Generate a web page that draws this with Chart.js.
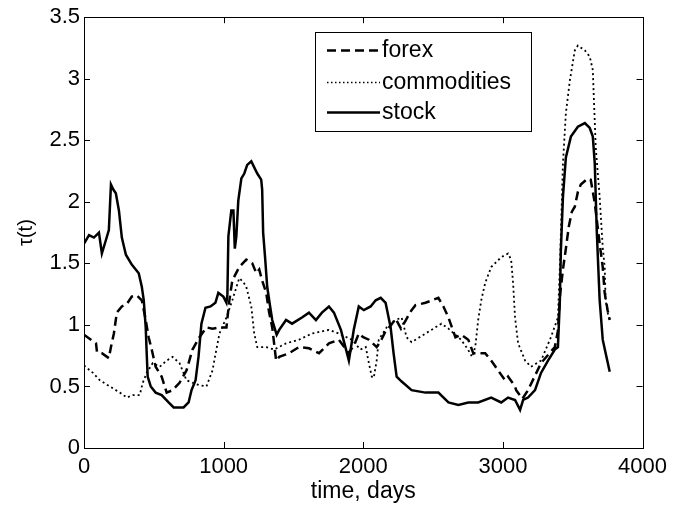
<!DOCTYPE html>
<html>
<head>
<meta charset="utf-8">
<script src="https://cdn.jsdelivr.net/npm/chart.js@4/dist/chart.umd.min.js"></script>
<style>
  html, body { margin: 0; padding: 0; background: #fff; }
  #wrap { width: 673px; height: 509px; }
</style>
</head>
<body>
<div id="wrap"><canvas id="c" width="673" height="509"></canvas></div>
<script>
// ---- Data ----
const seriesNames = ['forex', 'commodities', 'stock'];
const xTickValues = [0, 1000, 2000, 3000, 4000];
const yTickValues = [0, 0.5, 1, 1.5, 2, 2.5, 3, 3.5];

const forexDays = [0, 50, 86, 93, 128, 178, 193, 214, 235, 271, 307, 342, 378, 414, 442, 463, 485, 513, 556, 592, 635, 684, 734, 777, 827, 877, 920, 970, 1020, 1041, 1062, 1112, 1162, 1205, 1234, 1255, 1276, 1305, 1326, 1348, 1376, 1398, 1469, 1540, 1611, 1683, 1754, 1825, 1897, 1940, 1968, 2000, 2040, 2096, 2130, 2160, 2200, 2232, 2270, 2310, 2346, 2374, 2446, 2538, 2574, 2610, 2660, 2702, 2752, 2788, 2873, 2916, 2966, 3016, 3037, 3087, 3095, 3140, 3180, 3273, 3372, 3394, 3410, 3430, 3451, 3472, 3494, 3515, 3537, 3558, 3608, 3629, 3658, 3693, 3715, 3729, 3750, 3765];
const forexVals = [0.92, 0.88, 0.85, 0.78, 0.77, 0.73, 0.82, 0.93, 1.10, 1.15, 1.17, 1.23, 1.24, 1.20, 1.04, 0.90, 0.80, 0.66, 0.58, 0.45, 0.47, 0.53, 0.63, 0.80, 0.90, 0.98, 0.97, 0.98, 0.98, 1.20, 1.36, 1.47, 1.53, 1.50, 1.42, 1.45, 1.36, 1.26, 1.10, 0.98, 0.71, 0.74, 0.77, 0.82, 0.81, 0.77, 0.85, 0.88, 0.77, 0.85, 0.93, 0.90, 0.88, 0.82, 0.88, 0.95, 1.00, 1.05, 0.97, 1.05, 1.12, 1.16, 1.18, 1.22, 1.15, 1.06, 0.90, 0.92, 0.88, 0.77, 0.77, 0.71, 0.63, 0.55, 0.58, 0.50, 0.47, 0.40, 0.47, 0.69, 0.82, 0.95, 1.25, 1.45, 1.62, 1.80, 1.92, 1.96, 2.08, 2.14, 2.19, 2.18, 1.99, 1.66, 1.47, 1.26, 1.12, 1.04];

const commodDays = [0, 64, 114, 185, 257, 307, 349, 399, 421, 449, 492, 542, 592, 635, 684, 734, 777, 827, 877, 920, 948, 970, 1020, 1062, 1112, 1140, 1162, 1198, 1219, 1241, 1305, 1362, 1447, 1540, 1633, 1754, 1825, 1918, 1980, 2018, 2040, 2061, 2075, 2096, 2111, 2168, 2232, 2275, 2310, 2346, 2446, 2517, 2560, 2610, 2650, 2700, 2750, 2780, 2802, 2823, 2845, 2873, 2916, 2988, 3037, 3059, 3073, 3087, 3109, 3159, 3201, 3273, 3344, 3394, 3408, 3430, 3451, 3480, 3515, 3537, 3587, 3622, 3644, 3651, 3665, 3693, 3715, 3729, 3736, 3750, 3765];
const commodVals = [0.67, 0.61, 0.55, 0.50, 0.45, 0.41, 0.43, 0.43, 0.53, 0.61, 0.69, 0.66, 0.71, 0.74, 0.69, 0.55, 0.53, 0.51, 0.50, 0.63, 0.80, 0.93, 1.06, 1.20, 1.38, 1.35, 1.31, 1.15, 0.93, 0.82, 0.82, 0.80, 0.85, 0.88, 0.93, 0.96, 0.93, 0.88, 0.80, 0.82, 0.69, 0.58, 0.57, 0.71, 0.88, 0.98, 1.04, 1.06, 0.90, 0.86, 0.93, 0.98, 1.01, 0.97, 0.93, 0.88, 0.80, 0.74, 0.82, 1.04, 1.20, 1.34, 1.47, 1.55, 1.58, 1.53, 1.34, 1.06, 0.85, 0.71, 0.66, 0.71, 0.90, 1.06, 1.47, 2.31, 2.72, 2.99, 3.23, 3.27, 3.23, 3.18, 3.07, 2.85, 2.44, 2.04, 1.63, 1.47, 1.20, 1.10, 1.04];

const stockDays = [0, 36, 71, 107, 128, 157, 178, 193, 210, 228, 250, 271, 300, 342, 392, 414, 428, 442, 449, 456, 478, 513, 556, 606, 642, 713, 749, 770, 799, 820, 841, 870, 906, 941, 962, 998, 1020, 1027, 1034, 1055, 1070, 1080, 1091, 1105, 1127, 1148, 1169, 1198, 1219, 1241, 1269, 1276, 1283, 1298, 1312, 1333, 1348, 1369, 1380, 1398, 1447, 1490, 1561, 1611, 1661, 1704, 1754, 1790, 1840, 1897, 1932, 1968, 2004, 2053, 2089, 2125, 2160, 2196, 2217, 2239, 2275, 2346, 2445, 2538, 2610, 2681, 2752, 2823, 2916, 2988, 3037, 3087, 3123, 3145, 3180, 3230, 3273, 3323, 3372, 3394, 3408, 3415, 3430, 3451, 3487, 3537, 3587, 3622, 3644, 3658, 3672, 3693, 3715, 3736, 3765];
const stockVals = [1.66, 1.73, 1.71, 1.75, 1.58, 1.69, 1.77, 2.14, 2.10, 2.07, 1.93, 1.71, 1.57, 1.49, 1.42, 1.31, 1.20, 0.98, 0.77, 0.58, 0.50, 0.45, 0.43, 0.37, 0.33, 0.33, 0.37, 0.47, 0.55, 0.74, 1.01, 1.14, 1.15, 1.18, 1.26, 1.23, 1.18, 1.25, 1.72, 1.93, 1.93, 1.62, 1.72, 2.01, 2.19, 2.23, 2.30, 2.33, 2.28, 2.23, 2.18, 2.10, 1.75, 1.53, 1.31, 1.15, 1.04, 0.96, 0.92, 0.96, 1.04, 1.01, 1.06, 1.10, 1.04, 1.10, 1.15, 1.10, 0.96, 0.71, 0.96, 1.15, 1.12, 1.15, 1.20, 1.22, 1.18, 0.98, 0.77, 0.58, 0.54, 0.47, 0.45, 0.45, 0.37, 0.35, 0.37, 0.37, 0.41, 0.37, 0.41, 0.39, 0.31, 0.39, 0.41, 0.47, 0.61, 0.71, 0.80, 0.82, 1.20, 1.60, 2.04, 2.36, 2.53, 2.61, 2.64, 2.60, 2.53, 2.31, 1.77, 1.20, 0.88, 0.77, 0.62];

// ---- build datasets ----
function pts(days, vals) { return days.map((d, i) => ({ x: d, y: vals[i] })); }

const FONT = "'Liberation Sans', Arial, Helvetica, sans-serif";
const styles = {
  forex: { borderDash: [9, 5], borderWidth: 2.5 },
  commodities: { borderDash: [2, 3], borderWidth: 1.8 },
  stock: { borderDash: [], borderWidth: 2.5 }
};
const dataMap = {
  forex: pts(forexDays, forexVals),
  commodities: pts(commodDays, commodVals),
  stock: pts(stockDays, stockVals)
};

const datasets = seriesNames.map(n => ({
  label: n,
  data: dataMap[n],
  borderColor: '#000',
  backgroundColor: '#000',
  borderWidth: styles[n].borderWidth,
  borderDash: styles[n].borderDash,
  pointRadius: 0,
  tension: 0,
  fill: false
}));

// box + inward ticks on all four sides
const framePlugin = {
  id: 'frame',
  afterDraw(chart) {
    const { ctx, chartArea: a, scales } = chart;
    ctx.save();
    ctx.strokeStyle = '#000';
    ctx.lineWidth = 1;
    ctx.setLineDash([]);
    ctx.strokeRect(Math.round(a.left) + 0.5, Math.round(a.top) + 0.5,
                   Math.round(a.right - a.left), Math.round(a.bottom - a.top));
    const L = 6;
    ctx.beginPath();
    xTickValues.forEach(v => {
      const px = Math.round(scales.x.getPixelForValue(v)) + 0.5;
      ctx.moveTo(px, a.bottom); ctx.lineTo(px, a.bottom - L);
      ctx.moveTo(px, a.top); ctx.lineTo(px, a.top + L);
    });
    yTickValues.forEach(v => {
      const py = Math.round(scales.y.getPixelForValue(v)) + 0.5;
      ctx.moveTo(a.left, py); ctx.lineTo(a.left + L, py);
      ctx.moveTo(a.right, py); ctx.lineTo(a.right - L, py);
    });
    ctx.stroke();
    ctx.restore();
  }
};

// MATLAB-like legend box inside the axes (top right)
const legendPlugin = {
  id: 'boxLegend',
  afterDraw(chart) {
    const { ctx, chartArea: a } = chart;
    const x0 = a.left + 231, y0 = a.top + 15, w = 216, h = 99;
    ctx.save();
    ctx.fillStyle = '#fff';
    ctx.fillRect(x0, y0, w, h);
    ctx.strokeStyle = '#000';
    ctx.lineWidth = 1;
    ctx.setLineDash([]);
    ctx.strokeRect(Math.round(x0) + 0.5, Math.round(y0) + 0.5, w, h);
    const rowY = [y0 + 18, y0 + 50, y0 + 80];
    chart.data.datasets.forEach((ds, i) => {
      const y = Math.round(rowY[i]) + 0.5;
      ctx.beginPath();
      ctx.setLineDash(ds.label === 'commodities' ? [1.5, 2.5] : ds.borderDash);
      ctx.lineWidth = ds.label === 'commodities' ? 1.3 : ds.borderWidth;
      ctx.strokeStyle = '#000';
      ctx.moveTo(x0 + 12, y);
      ctx.lineTo(x0 + 65, y);
      ctx.stroke();
      ctx.setLineDash([]);
      ctx.fillStyle = '#000';
      ctx.font = "23px " + FONT;
      ctx.textBaseline = 'middle';
      ctx.textAlign = 'left';
      ctx.fillText(ds.label, x0 + 67, y);
    });
    ctx.restore();
  }
};

const plainLabel = v => String(v);

new Chart(document.getElementById('c'), {
  type: 'line',
  data: { datasets },
  plugins: [framePlugin, legendPlugin],
  options: {
    responsive: false,
    animation: false,
    events: [],
    layout: { autoPadding: false, padding: { left: 0, top: 17, right: 28, bottom: 0 } },
    plugins: { legend: { display: false }, tooltip: { enabled: false } },
    scales: {
      x: {
        type: 'linear',
        min: 0, max: 4000,
        afterFit(s) { s.height = 61; },
        afterBuildTicks(s) { s.ticks = xTickValues.map(v => ({ value: v })); },
        grid: { display: false, drawTicks: false },
        border: { display: false },
        ticks: { color: '#000', font: { family: FONT, size: 22 }, padding: 6, maxRotation: 0, autoSkip: false, callback: plainLabel },
        title: { display: true, text: 'time, days', color: '#000', font: { family: FONT, size: 23 }, padding: { top: 0, bottom: 4 } }
      },
      y: {
        type: 'linear',
        min: 0, max: 3.5,
        afterFit(s) { s.width = 84; },
        afterBuildTicks(s) { s.ticks = yTickValues.map(v => ({ value: v })); },
        grid: { display: false, drawTicks: false },
        border: { display: false },
        ticks: { color: '#000', font: { family: FONT, size: 22 }, padding: 4, autoSkip: false, callback: plainLabel },
        title: { display: true, text: 'τ(t)', color: '#000', font: { family: FONT, size: 20 }, padding: { top: 14, bottom: 0 } }
      }
    }
  }
});
</script>
</body>
</html>
